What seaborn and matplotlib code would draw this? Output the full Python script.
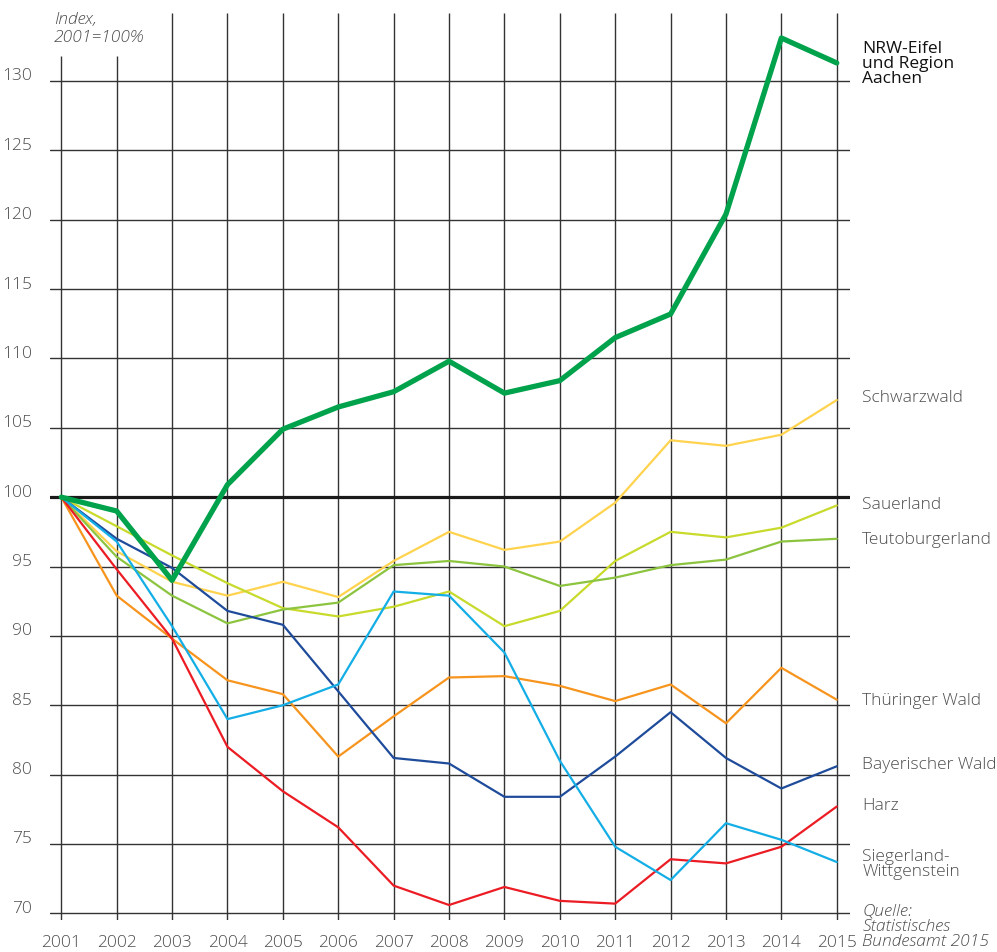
import matplotlib.pyplot as plt
import numpy as np
import pandas as pd
import seaborn as sns

# Daten (Index, 2001 = 100)
years = list(range(2001, 2016))

schwarzwald = [100, 96.1, 93.9, 92.9, 93.9, 92.8, 95.4, 97.5, 96.2, 96.8, 99.6, 104.1, 103.7, 104.5, 107.0]
sauerland = [100, 97.9, 95.8, 93.8, 92.0, 91.4, 92.1, 93.2, 90.7, 91.8, 95.4, 97.5, 97.1, 97.8, 99.4]
teutoburgerland = [100, 95.7, 92.9, 90.9, 91.9, 92.4, 95.1, 95.4, 95.0, 93.6, 94.2, 95.1, 95.5, 96.8, 97.0]
thueringer_wald = [100, 92.9, 89.8, 86.8, 85.8, 81.3, 84.2, 87.0, 87.1, 86.4, 85.3, 86.5, 83.7, 87.7, 85.4]
bayerischer_wald = [100, 97.0, 94.9, 91.8, 90.8, 86.0, 81.2, 80.8, 78.4, 78.4, 81.3, 84.5, 81.2, 79.0, 80.6]
harz = [100, 94.8, 89.8, 82.0, 78.8, 76.2, 72.0, 70.6, 71.9, 70.9, 70.7, 73.9, 73.6, 74.8, 77.7]
siegerland = [100, 96.8, 90.7, 84.0, 85.0, 86.5, 93.2, 92.9, 88.8, 81.0, 74.8, 72.4, 76.5, 75.3, 73.7]
nrw_eifel = [100, 99.0, 94.0, 100.9, 104.9, 106.5, 107.6, 109.8, 107.5, 108.4, 111.5, 113.2, 120.4, 133.1, 131.3]

region_names = ['Schwarzwald', 'Sauerland', 'Teutoburgerland', 'Thüringer Wald',
                'Bayerischer Wald', 'Harz', 'Siegerland-\nWittgenstein',
                'NRW-Eifel\nund Region\nAachen']
region_values = [schwarzwald, sauerland, teutoburgerland, thueringer_wald,
                 bayerischer_wald, harz, siegerland, nrw_eifel]
y_ticks = list(range(70, 131, 5))

# Long-Format für seaborn
df = pd.DataFrame({
    'year': years * len(region_names),
    'value': sum(region_values, []),
    'region': [r for r in region_names for _ in years],
})

palette = {
    'Schwarzwald': '#ffd34e',
    'Sauerland': '#c8da2b',
    'Teutoburgerland': '#8cc43f',
    'Thüringer Wald': '#f7941d',
    'Bayerischer Wald': '#1f4b9b',
    'Harz': '#ec1c24',
    'Siegerland-\nWittgenstein': '#14aee6',
    'NRW-Eifel\nund Region\nAachen': '#00a24b',
}
sizes = {r: 1.6 for r in region_names}
sizes['NRW-Eifel\nund Region\nAachen'] = 3.8

sns.set_style('white')
plt.rcParams['font.family'] = ['Open Sans', 'Lato', 'DejaVu Sans']
text_col = '#4d4d4d'
fs = 12.5

fig = plt.figure(figsize=(9.97, 9.53), dpi=100)
ax = fig.add_axes([50 / 997, 32 / 953, 800 / 997, 907 / 953])

y_bottom, y_top = 69.52, 134.9
ax.set_xlim(2000.796, 2015.239)
ax.set_ylim(y_bottom, y_top)
ax.axis('off')

# Gitter
for v in y_ticks:
    if v == 100:
        ax.axhline(v, color='#1a1a1a', lw=2.3, zorder=3)
    else:
        ax.axhline(v, color='#333333', lw=1.0, zorder=1)
tops = [131.8 if y < 2003 else y_top for y in years]
ax.vlines(years, y_bottom, tops, color='#333333', lw=1.0, zorder=1)

# Linien
sns.lineplot(data=df, x='year', y='value', hue='region', size='region',
             palette=palette, sizes=sizes, hue_order=region_names,
             size_order=region_names, legend=False, ax=ax, zorder=4)

# Achsenbeschriftung
for v in y_ticks:
    ax.text(2000.47, v + 0.4, str(v), ha='right', va='center',
            fontsize=fs, color=text_col, fontweight='light', clip_on=False)
for y in years:
    ax.text(y, 67.9, str(y), ha='center', va='center',
            fontsize=fs, color=text_col, fontweight='light', clip_on=False)

ax.text(2000.87, 133.8, 'Index,\n2001=100%', ha='left', va='center',
        fontsize=fs, color=text_col, style='italic', fontweight='light',
        linespacing=1.2, clip_on=False)

# Beschriftung rechts
label_y = [107.2, 99.5, 97.0, 85.4, 80.8, 77.8, 73.6, 131.3]
for name, ly in zip(region_names, label_y):
    bold = name.startswith('NRW')
    ax.text(2015.46, ly, name, ha='left', va='center', fontsize=fs,
            color='#111111' if bold else text_col,
            fontweight='normal' if bold else 'light',
            linespacing=0.92, clip_on=False)

ax.text(2015.46, 69.1, 'Quelle:\nStatistisches\nBundesamt 2015', ha='left',
        va='center', fontsize=fs, color=text_col, style='italic',
        fontweight='light', linespacing=0.92, clip_on=False)

fig.savefig('out.png', dpi=100)
plt.close(fig)
